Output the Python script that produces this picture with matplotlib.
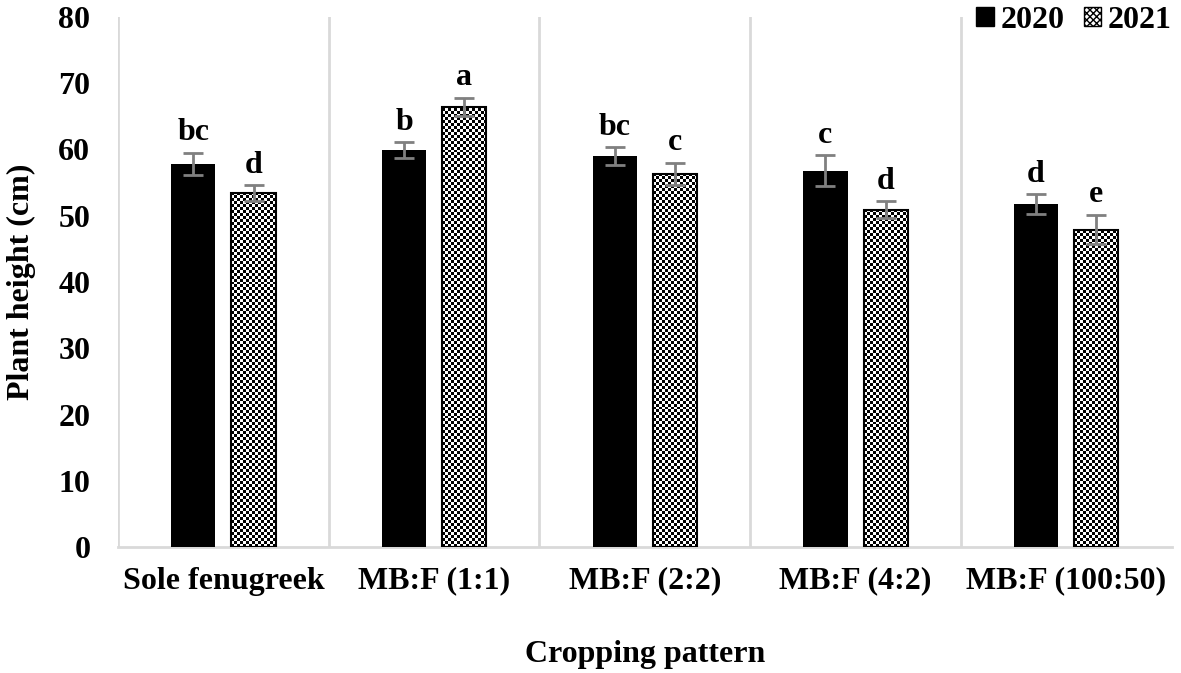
import numpy as np
import matplotlib
matplotlib.use('Agg')
import matplotlib.pyplot as plt
from matplotlib.patches import Patch

# data
patterns = ['Sole fenugreek', 'MB:F (1:1)', 'MB:F (2:2)', 'MB:F (4:2)', 'MB:F (100:50)']
height2020 = [57.8, 59.9, 59.0, 56.8, 51.7]
err2020 = [1.7, 1.2, 1.3, 2.3, 1.5]
letters2020 = ['bc', 'b', 'bc', 'c', 'd']
height2021 = [53.4, 66.4, 56.3, 50.9, 47.9]
err2021 = [1.2, 1.4, 1.7, 1.3, 2.2]
letters2021 = ['d', 'a', 'c', 'd', 'e']

plt.rcParams['font.family'] = ['Liberation Serif', 'DejaVu Serif']
plt.rcParams['font.weight'] = 'bold'
fs = 23

fig = plt.figure(figsize=(11.81, 6.73), dpi=100)
ax = fig.add_axes([0.1, 0.187, 0.892, 0.788])

x = np.arange(len(patterns))
w = 0.21
off = 0.143

b1 = ax.bar(x - off, height2020, w, color='black', zorder=3)
b2 = ax.bar(x + off, height2021, w, facecolor='none', edgecolor='black', linewidth=1.5, zorder=4)

# checkerboard fill for 2021 bars
cell_y = 0.45
for rect in b2:
    bx, bw, bh = rect.get_x(), rect.get_width(), rect.get_height()
    nx = 15
    ny = int(np.ceil(bh / cell_y))
    checker = np.indices((ny, nx)).sum(axis=0) % 2
    im = ax.imshow(checker, cmap='gray', extent=(bx, bx + bw, 0, ny * cell_y),
                   origin='lower', interpolation='nearest', aspect='auto', zorder=3.5)
    im.set_clip_path(rect)

ax.errorbar(x - off, height2020, yerr=err2020, fmt='none', ecolor='#808080',
            elinewidth=2, capsize=7, capthick=2, zorder=5)
ax.errorbar(x + off, height2021, yerr=err2021, fmt='none', ecolor='#808080',
            elinewidth=2, capsize=7, capthick=2, zorder=5)

for i in range(len(patterns)):
    ax.annotate(letters2020[i], (x[i] - off, height2020[i] + err2020[i]),
                xytext=(0, 4), textcoords='offset points', ha='center', va='bottom',
                fontsize=fs, fontweight='bold')
    ax.annotate(letters2021[i], (x[i] + off, height2021[i] + err2021[i]),
                xytext=(0, 4), textcoords='offset points', ha='center', va='bottom',
                fontsize=fs, fontweight='bold')

# category separators
for xv in np.arange(-0.5, len(patterns) - 0.5, 1.0):
    ax.axvline(xv, color='#d9d9d9', linewidth=2, zorder=1)

ax.set_xlim(-0.5, len(patterns) - 0.5)
ax.set_ylim(0, 80)
ax.set_yticks(range(0, 81, 10))
ax.set_xticks(x)
ax.set_xticklabels(patterns)
ax.tick_params(axis='both', length=0, labelsize=fs)
ax.tick_params(axis='x', pad=14)
ax.tick_params(axis='y', pad=20)
for s in ['top', 'right', 'left']:
    ax.spines[s].set_visible(False)
ax.spines['bottom'].set_color('#d9d9d9')
ax.spines['bottom'].set_linewidth(2)

ax.set_ylabel('Plant height (cm)', fontsize=fs, fontweight='bold', labelpad=16)
ax.set_xlabel('Cropping pattern', fontsize=fs, fontweight='bold', labelpad=32)

handles = [Patch(facecolor='black', edgecolor='black'),
           Patch(facecolor='white', edgecolor='black', hatch='xxxxx')]
ax.legend(handles, ['2020', '2021'], loc='upper right', bbox_to_anchor=(1.012, 1.045),
          frameon=False, fontsize=fs, handlelength=0.55, handleheight=0.55,
          handletextpad=0.2, columnspacing=0.6, ncol=2, borderaxespad=0)

fig.savefig('out.png', dpi=100)
